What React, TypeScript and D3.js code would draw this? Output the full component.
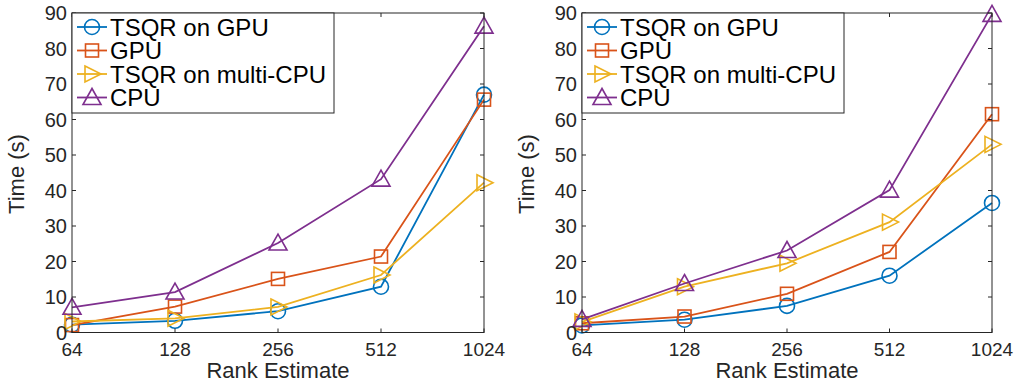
import React from "react";
import * as d3 from "d3";

const ranks = [64, 128, 256, 512, 1024];
const yTicks = [0, 10, 20, 30, 40, 50, 60, 70, 80, 90];
const seriesNames = ["TSQR on GPU", "GPU", "TSQR on multi-CPU", "CPU"];
const colors = ["#0072BD", "#D95319", "#EDB120", "#7E2F8E"];
const markers = ["circle", "square", "triangleRight", "triangleUp"];

// left panel
const leftTsqrGpu = [2.2, 3.3, 6.0, 12.9, 67];
const leftGpu = [2.1, 7.3, 15.1, 21.4, 65.6];
const leftTsqrCpu = [3.1, 4.0, 7.2, 16.2, 42.2];
const leftCpu = [7.1, 11.4, 25.2, 43.2, 86.3];

// right panel
const rightTsqrGpu = [2.0, 3.6, 7.5, 16.0, 36.5];
const rightGpu = [2.6, 4.5, 10.9, 22.7, 61.5];
const rightTsqrCpu = [3.0, 12.9, 19.5, 31.1, 53.0];
const rightCpu = [3.7, 13.8, 23.1, 40.1, 89.6];

const panels = [
  { left: 72, right: 484, data: [leftTsqrGpu, leftGpu, leftTsqrCpu, leftCpu] },
  { left: 582, right: 992, data: [rightTsqrGpu, rightGpu, rightTsqrCpu, rightCpu] },
];

const top = 13;
const bottom = 332.5;
const axisColor = "#262626";
const font = "'Liberation Sans', Arial, Helvetica, sans-serif";

function Marker({ kind, x, y, color }: { kind: string; x: number; y: number; color: string }) {
  const common = { fill: "none", stroke: color, strokeWidth: 1.6 };
  if (kind === "circle") return <circle cx={x} cy={y} r={7.5} {...common} />;
  if (kind === "square") return <rect x={x - 6.5} y={y - 6.5} width={13} height={13} {...common} />;
  if (kind === "triangleRight") {
    const pts = `${x - 7},${y - 8} ${x + 9},${y} ${x - 7},${y + 8}`;
    return <polygon points={pts} {...common} />;
  }
  const pts = `${x},${y - 9} ${x + 9},${y + 7} ${x - 9},${y + 7}`;
  return <polygon points={pts} {...common} />;
}

function Panel({ left, right, data }: { left: number; right: number; data: number[][] }) {
  const x = d3.scaleLog().base(2).domain([64, 1024]).range([left, right]);
  const y = d3.scaleLinear().domain([0, 90]).range([bottom, top]);
  const line = d3
    .line<number>()
    .x((_, i) => x(ranks[i]))
    .y((d) => y(d));
  const tick = 4;
  const legW = 262;
  const legH = 100;
  return (
    <g>
      {data.map((s, si) => (
        <g key={si}>
          <path d={line(s) || ""} fill="none" stroke={colors[si]} strokeWidth={1.8} />
          {s.map((v, i) => (
            <Marker key={i} kind={markers[si]} x={x(ranks[i])} y={y(v)} color={colors[si]} />
          ))}
        </g>
      ))}
      <rect x={left} y={top} width={right - left} height={bottom - top} fill="none" stroke={axisColor} strokeWidth={1} />
      {yTicks.map((t) => (
        <g key={t}>
          <line x1={left} x2={left + tick} y1={y(t)} y2={y(t)} stroke={axisColor} />
          <line x1={right} x2={right - tick} y1={y(t)} y2={y(t)} stroke={axisColor} />
          <text x={left - 5} y={y(t)} dy="0.35em" textAnchor="end" fontSize={20} fill={axisColor} fontFamily={font}>
            {t}
          </text>
        </g>
      ))}
      {ranks.map((r) => (
        <g key={r}>
          <line x1={x(r)} x2={x(r)} y1={bottom} y2={bottom - tick} stroke={axisColor} />
          <line x1={x(r)} x2={x(r)} y1={top} y2={top + tick} stroke={axisColor} />
          <text x={x(r)} y={356} textAnchor="middle" fontSize={19} fill={axisColor} fontFamily={font}>
            {r}
          </text>
        </g>
      ))}
      <text x={(left + right) / 2} y={378} textAnchor="middle" fontSize={22} fill={axisColor} fontFamily={font}>
        Rank Estimate
      </text>
      <text
        transform={`translate(${left - 48.5},174) rotate(-90)`}
        textAnchor="middle"
        fontSize={22}
        fill={axisColor}
        fontFamily={font}
      >
        Time (s)
      </text>
      <g>
        <rect x={left} y={top} width={legW} height={legH} fill="#fff" stroke={axisColor} strokeWidth={1} />
        {seriesNames.map((n, i) => {
          const ly = top + 14 + i * 23.5;
          return (
            <g key={n}>
              <line x1={left + 5} x2={left + 35} y1={ly} y2={ly} stroke={colors[i]} strokeWidth={1.8} />
              <Marker kind={markers[i]} x={left + 20} y={ly} color={colors[i]} />
              <text x={left + 38} y={ly} dy="0.36em" fontSize={24} fill="#000" fontFamily={font}>
                {n}
              </text>
            </g>
          );
        })}
      </g>
    </g>
  );
}

export default function App() {
  return (
    <svg width={1017} height={386} style={{ position: "absolute", left: 0, top: 0, background: "#fff" }}>
      {panels.map((p, i) => (
        <Panel key={i} left={p.left} right={p.right} data={p.data} />
      ))}
    </svg>
  );
}
